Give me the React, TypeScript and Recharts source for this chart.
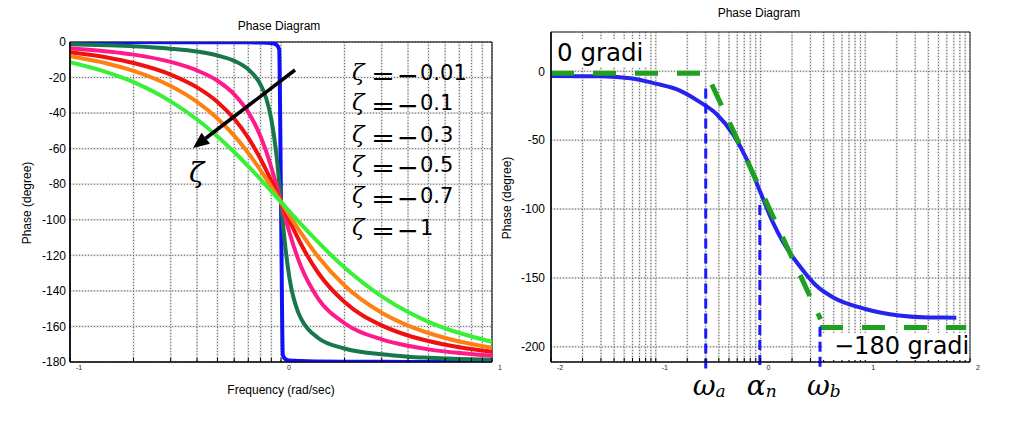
import React from 'react';
import { LineChart, Line, XAxis, YAxis, CartesianGrid, ReferenceLine, ReferenceArea } from 'recharts';

// ---------- Left chart data (phase in degrees vs frequency in rad/s) ----------
const freqL = [0.1, 0.15, 0.2, 0.3, 0.4, 0.5, 0.6, 0.7, 0.8, 0.85, 0.9, 0.95, 0.98, 1, 1.02, 1.05, 1.1, 1.2, 1.25, 1.5, 2, 3, 4, 5, 7, 10];
const phaseZ001 = [0, 0, 0, -0.1, -0.1, -0.1, -0.2, -0.2, -0.3, -0.4, -0.6, -1.5, -4, -90, -176, -178.5, -179.2, -179.4, -179.5, -179.7, -179.8, -179.9, -180, -180, -180, -180];
const phaseZ01 = [-1.2, -1.8, -2.4, -3.8, -5.4, -7.6, -10.6, -15.4, -24, -31.5, -43.5, -62.8, -78.6, -90, -101.2, -116, -133.7, -151.4, -156, -166.5, -172.4, -175.7, -177, -177.6, -178.3, -178.8];
const phaseZ03 = [-3.5, -5.3, -7.1, -11.2, -16, -21.8, -29.4, -39.5, -53.1, -61.4, -70.6, -80.3, -86.2, -90, -93.8, -99.2, -107.7, -121.4, -126.9, -144.3, -158.2, -167.3, -170.9, -172.9, -175, -176.5];
const phaseZ05 = [-5.8, -8.7, -11.8, -18.3, -25.5, -33.7, -43.2, -53.9, -65.8, -71.9, -78.1, -84.1, -87.7, -90, -92.3, -95.6, -100.8, -110.1, -114.2, -129.8, -146.3, -159.4, -165.1, -168.2, -171.7, -174.2];
const phaseZ07 = [-8, -12.1, -16.3, -24.8, -33.7, -43, -52.7, -62.5, -72.2, -76.9, -81.4, -85.8, -88.3, -90, -91.6, -94, -97.8, -104.7, -107.8, -120.8, -137, -152.3, -159.5, -163.7, -168.5, -172];
const phaseZ1 = [-11.4, -17.1, -22.6, -33.4, -43.6, -53.1, -61.9, -70, -77.3, -80.7, -84, -87.1, -88.8, -90, -91.1, -92.8, -95.5, -100.4, -102.7, -112.6, -126.9, -143.1, -151.9, -157.4, -163.7, -168.6];

const zetaKeys = ['z001', 'z01', 'z03', 'z05', 'z07', 'z1'];
const zetaLabels = ['0.01', '0.1', '0.3', '0.5', '0.7', '1'];
const zetaColors = ['#1010f8', '#16784a', '#ff1a8c', '#f01010', '#ff8012', '#38f038'];
const zetaSeries = [phaseZ001, phaseZ01, phaseZ03, phaseZ05, phaseZ07, phaseZ1];

const yTicksL = [0, -20, -40, -60, -80, -100, -120, -140, -160, -180];
const decadesL = [0.1, 1, 10];
const decadeLabelsL = ['-1', '0', '1'];

// arrow annotation (tail -> head) in data coordinates
const arrowFreq = [1.165, 0.383];
const arrowPhase = [-15.75, -59.6];

// ---------- Right chart data ----------
const freqR = [0.01, 0.03, 0.06, 0.1, 0.17, 0.26, 0.38, 0.55, 0.74, 1, 1.3, 1.64, 2.4, 3.4, 4.9, 10, 21, 40, 74];
const phaseR = [-3.5, -3.6, -5.3, -9, -14, -22, -31, -46, -64, -88, -109, -124, -142, -155.5, -164, -172.5, -177.3, -178.7, -178.8];

const asymFreq = [0.01, 0.306, 3.75];
const asymPhase = [-1.5, -1.5, -180];
const asymLowFreq = [3.7, 92];
const asymLowPhase = [-186, -186];

const markerFreq = [0.3, 0.985, 3.7];
const markerTop = [-12.5, -97, -185.5];
const markerBottom = [-219, -214.5, -215.5];
const markerSym = ['\u03C9', '\u03B1', '\u03C9'];
const markerSub = ['a', 'n', 'b'];

const yTicksR = [0, -50, -100, -150, -200];
const decadesR = [0.01, 0.1, 1, 10, 100];
const decadeLabelsR = ['-2', '-1', '0', '1', '2'];

const mantissas = [1, 2, 3, 4, 5, 6, 7, 8, 9];

const buildTicks = (decades: number[]) => {
  const t: number[] = [];
  decades.slice(0, -1).forEach((d) => mantissas.forEach((m) => t.push(+(d * m).toPrecision(6))));
  t.push(decades[decades.length - 1]);
  return t;
};

const rowsL = freqL.map((w, i) => {
  const r: any = { w };
  zetaKeys.forEach((k, j) => (r[k] = zetaSeries[j][i]));
  return r;
});
const rowsBlue = freqR.map((w, i) => ({ w, p: phaseR[i] }));
const rowsAsym = asymFreq.map((w, i) => ({ w, p: asymPhase[i] }));
const rowsAsymLow = asymLowFreq.map((w, i) => ({ w, p: asymLowPhase[i] }));

const FONT = 'Liberation Sans, Arial, sans-serif';
const MATH = 'DejaVu Serif, serif';
const SANS = 'DejaVu Sans, sans-serif';

const makeXTick = (decades: number[], labels: string[]) => (props: any) => {
  const { x, payload } = props;
  const i = decades.findIndex((d) => Math.abs(d - payload.value) < 1e-9);
  if (i < 0) return <g />;
  return (
    <text x={x + 6} y={370} fontSize={7} fontFamily={FONT} fill="#222">
      {labels[i]}
    </text>
  );
};

const ArrowShape = (p: any) => {
  const { x1, y1, x2, y2 } = p;
  const a = Math.atan2(y2 - y1, x2 - x1);
  const L = 16;
  const W = 7;
  const bx = x2 - L * Math.cos(a);
  const by = y2 - L * Math.sin(a);
  const px = -Math.sin(a) * W;
  const py = Math.cos(a) * W;
  return (
    <g>
      <line x1={x1} y1={y1} x2={bx} y2={by} stroke="#000" strokeWidth={3.5} />
      <polygon points={`${x2},${y2} ${bx + px},${by + py} ${bx - px},${by - py}`} fill="#000" />
    </g>
  );
};

const makeMarkerLabel = (i: number) => (props: any) => {
  const vb = props.viewBox || {};
  const x = vb.x ?? 0;
  return (
    <text x={x - 13} y={395} fill="#000" fontFamily={MATH} fontStyle="italic">
      <tspan fontSize={28}>{markerSym[i]}</tspan>
      <tspan fontSize={17} dy={2}>{markerSub[i]}</tspan>
    </text>
  );
};

export default function App() {
  const ticksL = buildTicks(decadesL);
  const ticksR = buildTicks(decadesR);
  const legendBaselines = [80, 110, 142, 172, 203, 235];
  return (
    <div style={{ position: 'relative', width: 1023, height: 437, background: '#fff', overflow: 'hidden' }}>
      <style>{'body{margin:0;background:#fff}'}</style>

      {/* Left chart */}
      <div style={{ position: 'absolute', left: 0, top: 0 }}>
        <LineChart width={510} height={437} data={rowsL} margin={{ top: 42, left: 30, right: 18, bottom: 45 }}>
          <CartesianGrid stroke="#e2e2e2" strokeWidth={2} />
          <CartesianGrid stroke="#6f6f6f" strokeDasharray="1 2" />
          <XAxis
            dataKey="w"
            type="number"
            scale="log"
            domain={[0.1, 10]}
            allowDataOverflow
            ticks={ticksL}
            interval={0}
            height={30}
            tickLine={{ stroke: '#000' }}
            tickSize={-4}
            tickMargin={0}
            axisLine={{ stroke: '#000' }}
            tick={makeXTick(decadesL, decadeLabelsL)}
          />
          <YAxis
            type="number"
            domain={[-180, 0]}
            allowDataOverflow
            ticks={yTicksL}
            interval={0}
            width={40}
            tickLine={false}
            tickSize={4}
            tickMargin={0}
            axisLine={{ stroke: '#000', strokeWidth: 1.5 }}
            tick={{ fontSize: 12, fill: '#000', fontFamily: FONT }}
          />
          <ReferenceArea x1={0.1} x2={10} y1={-180} y2={0} fill="none" stroke="#000" strokeWidth={1} ifOverflow="visible" />
          {zetaKeys.map((k, j) => (
            <Line
              key={k}
              dataKey={k}
              type="monotone"
              stroke={zetaColors[j]}
              strokeWidth={4}
              dot={false}
              isAnimationActive={false}
            />
          ))}
          <ReferenceLine
            segment={[
              { x: arrowFreq[0], y: arrowPhase[0] },
              { x: arrowFreq[1], y: arrowPhase[1] },
            ]}
            ifOverflow="visible"
            shape={ArrowShape}
          />
        </LineChart>
      </div>

      {/* Right chart */}
      <div style={{ position: 'absolute', left: 500, top: 0 }}>
        <LineChart width={523} height={437} margin={{ top: 32, left: 11, right: 53, bottom: 45 }}>
          <CartesianGrid stroke="#e2e2e2" strokeWidth={2} />
          <CartesianGrid stroke="#6f6f6f" strokeDasharray="1 2" />
          <XAxis
            dataKey="w"
            type="number"
            scale="log"
            domain={[0.01, 100]}
            allowDataOverflow
            ticks={ticksR}
            interval={0}
            height={30}
            tickLine={{ stroke: '#000' }}
            tickSize={-4}
            tickMargin={0}
            axisLine={{ stroke: '#000' }}
            tick={makeXTick(decadesR, decadeLabelsR)}
          />
          <YAxis
            type="number"
            domain={[-211, 28.5]}
            allowDataOverflow
            ticks={yTicksR}
            interval={0}
            width={40}
            tickLine={false}
            tickSize={6}
            tickMargin={0}
            axisLine={{ stroke: '#000', strokeWidth: 1.5 }}
            tick={{ fontSize: 12, fill: '#000', fontFamily: FONT }}
          />
          <ReferenceArea x1={0.01} x2={100} y1={-211} y2={28.5} fill="none" stroke="#333" strokeWidth={1} ifOverflow="visible" />
          <Line data={rowsBlue} dataKey="p" type="monotone" stroke="#2424ee" strokeWidth={4} dot={false} isAnimationActive={false} />
          <Line data={rowsAsym} dataKey="p" type="linear" stroke="#1fa01f" strokeWidth={5} strokeDasharray="23 19" dot={false} isAnimationActive={false} />
          <Line data={rowsAsymLow} dataKey="p" type="linear" stroke="#1fa01f" strokeWidth={5} strokeDasharray="23 19" dot={false} isAnimationActive={false} />
          {markerFreq.map((f, i) => (
            <ReferenceLine
              key={'m' + i}
              segment={[
                { x: f, y: markerTop[i] },
                { x: f, y: markerBottom[i] },
              ]}
              ifOverflow="visible"
              stroke="#1a1aff"
              strokeWidth={3}
              strokeDasharray="10 5"
              label={{ content: makeMarkerLabel(i) }}
            />
          ))}
        </LineChart>
      </div>

      {/* Titles, axis labels and annotations */}
      <svg width={1023} height={437} style={{ position: 'absolute', left: 0, top: 0, pointerEvents: 'none' }}>
        <g fontFamily={FONT} fill="#000" fontSize={12}>
          <text x={279} y={30} textAnchor="middle">Phase Diagram</text>
          <text x={759} y={17} textAnchor="middle">Phase Diagram</text>
          <text x={281} y={394} textAnchor="middle">Frequency (rad/sec)</text>
          <text x={31} y={203} textAnchor="middle" transform="rotate(-90 31 203)">Phase (degree)</text>
          <text x={511} y={198} textAnchor="middle" transform="rotate(-90 511 198)">Phase (degree)</text>
        </g>

        {zetaLabels.map((lab, i) => {
          const b = legendBaselines[i];
          return (
            <g key={lab} fill="#000">
              <text x={352} y={b} fontSize={23} fontFamily={MATH} fontStyle="italic">{'\u03B6'}</text>
              <text x={371} y={b + 4} fontSize={25} fontFamily={SANS} textLength={24} lengthAdjust="spacingAndGlyphs">=</text>
              <text x={397} y={b + 4} fontSize={25} fontFamily={SANS} textLength={22} lengthAdjust="spacingAndGlyphs">{'\u2212'}</text>
              <text x={420} y={b} fontSize={21} fontFamily={SANS}>{lab}</text>
            </g>
          );
        })}

        <text x={189} y={182} fontSize={28} fontFamily={MATH} fontStyle="italic" fill="#000">{'\u03B6'}</text>

        <rect x={555} y={39} width={94} height={28} fill="#fff" />
        <text x={557} y={61} fontSize={24.5} fontFamily={SANS} fill="#000">0 gradi</text>

        <rect x={823} y={333} width={146} height={27} fill="#fff" />
        <text x={834} y={354} fontSize={24} fontFamily={SANS} fill="#000">{'\u2212180 gradi'}</text>
      </svg>
    </div>
  );
}
